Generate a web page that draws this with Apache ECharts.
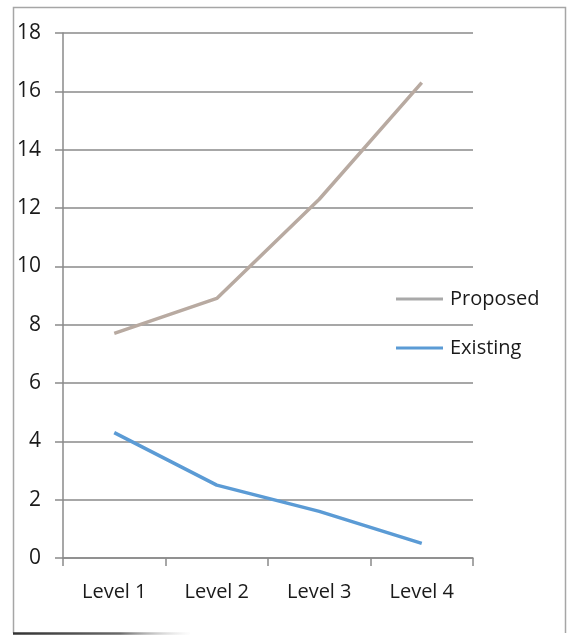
<!DOCTYPE html>
<html>
<head>
<meta charset="utf-8">
<script src="https://cdn.jsdelivr.net/npm/echarts@6/dist/echarts.min.js"></script>
<style>
  html, body { margin: 0; padding: 0; background: #fff; }
  #chart { width: 568px; height: 635px; }
</style>
</head>
<body>
<div id="chart"></div>
<script>
// Categories and series values
const levels = ['Level 1', 'Level 2', 'Level 3', 'Level 4'];
const proposed = [7.7, 8.9, 12.3, 16.3];
const existing = [4.3, 2.5, 1.6, 0.5];

const FONT = '"Open Sans", sans-serif';
const TEXT_COLOR = '#1a1a1a';
const GRID_COLOR = '#8a8a8a';

const chart = echarts.init(document.getElementById('chart'), null, { renderer: 'canvas' });

chart.setOption({
  animation: false,
  backgroundColor: '#ffffff',
  grid: { left: 63, right: 95, top: 33, bottom: 77, containLabel: false },
  xAxis: {
    type: 'category',
    data: levels,
    boundaryGap: true,
    axisLine: { show: true, lineStyle: { color: GRID_COLOR, width: 1.5 } },
    axisTick: { show: true, length: 8, inside: false, lineStyle: { color: GRID_COLOR, width: 1.5 } },
    axisLabel: { color: TEXT_COLOR, fontFamily: FONT, fontSize: 20, margin: 24 },
    splitLine: { show: false }
  },
  yAxis: {
    type: 'value',
    min: 0,
    max: 18,
    interval: 2,
    axisLine: { show: true, lineStyle: { color: GRID_COLOR, width: 1.5 } },
    axisTick: { show: true, length: 8, inside: false, lineStyle: { color: GRID_COLOR, width: 1.5 } },
    axisLabel: { color: TEXT_COLOR, fontFamily: FONT, fontSize: 21, margin: 22 },
    splitLine: { show: true, lineStyle: { color: GRID_COLOR, width: 1.5 } }
  },
  legend: {
    orient: 'vertical',
    left: 396,
    top: 289,
    padding: 0,
    icon: 'rect',
    itemWidth: 47,
    itemHeight: 3,
    itemGap: 29,
    textStyle: { color: TEXT_COLOR, fontFamily: FONT, fontSize: 20, padding: [0, 0, 0, 2] },
    data: ['Proposed', 'Existing']
  },
  series: [
    {
      name: 'Proposed',
      type: 'line',
      data: proposed,
      symbol: 'none',
      lineStyle: { color: '#b8aaa1', width: 3.5 },
      itemStyle: { color: '#a9a9a9' }
    },
    {
      name: 'Existing',
      type: 'line',
      data: existing,
      symbol: 'none',
      lineStyle: { color: '#5b9bd5', width: 3.5 },
      itemStyle: { color: '#5b9bd5' }
    }
  ],
  graphic: [
    // frame around the chart
    {
      type: 'polyline',
      silent: true,
      shape: { points: [[13.5, 633], [13.5, 7.5], [565.5, 7.5], [565.5, 633]] },
      style: { stroke: '#a6a6a6', lineWidth: 1.5, fill: null }
    },
    {
      type: 'line',
      silent: true,
      shape: { x1: 13, y1: 633.5, x2: 190, y2: 633.5 },
      style: {
        lineWidth: 2.5,
        stroke: new echarts.graphic.LinearGradient(0, 0, 1, 0, [
          { offset: 0, color: '#303030' },
          { offset: 0.6, color: '#6a6a6a' },
          { offset: 1, color: 'rgba(200,200,200,0)' }
        ])
      }
    }
  ]
});
</script>
</body>
</html>
